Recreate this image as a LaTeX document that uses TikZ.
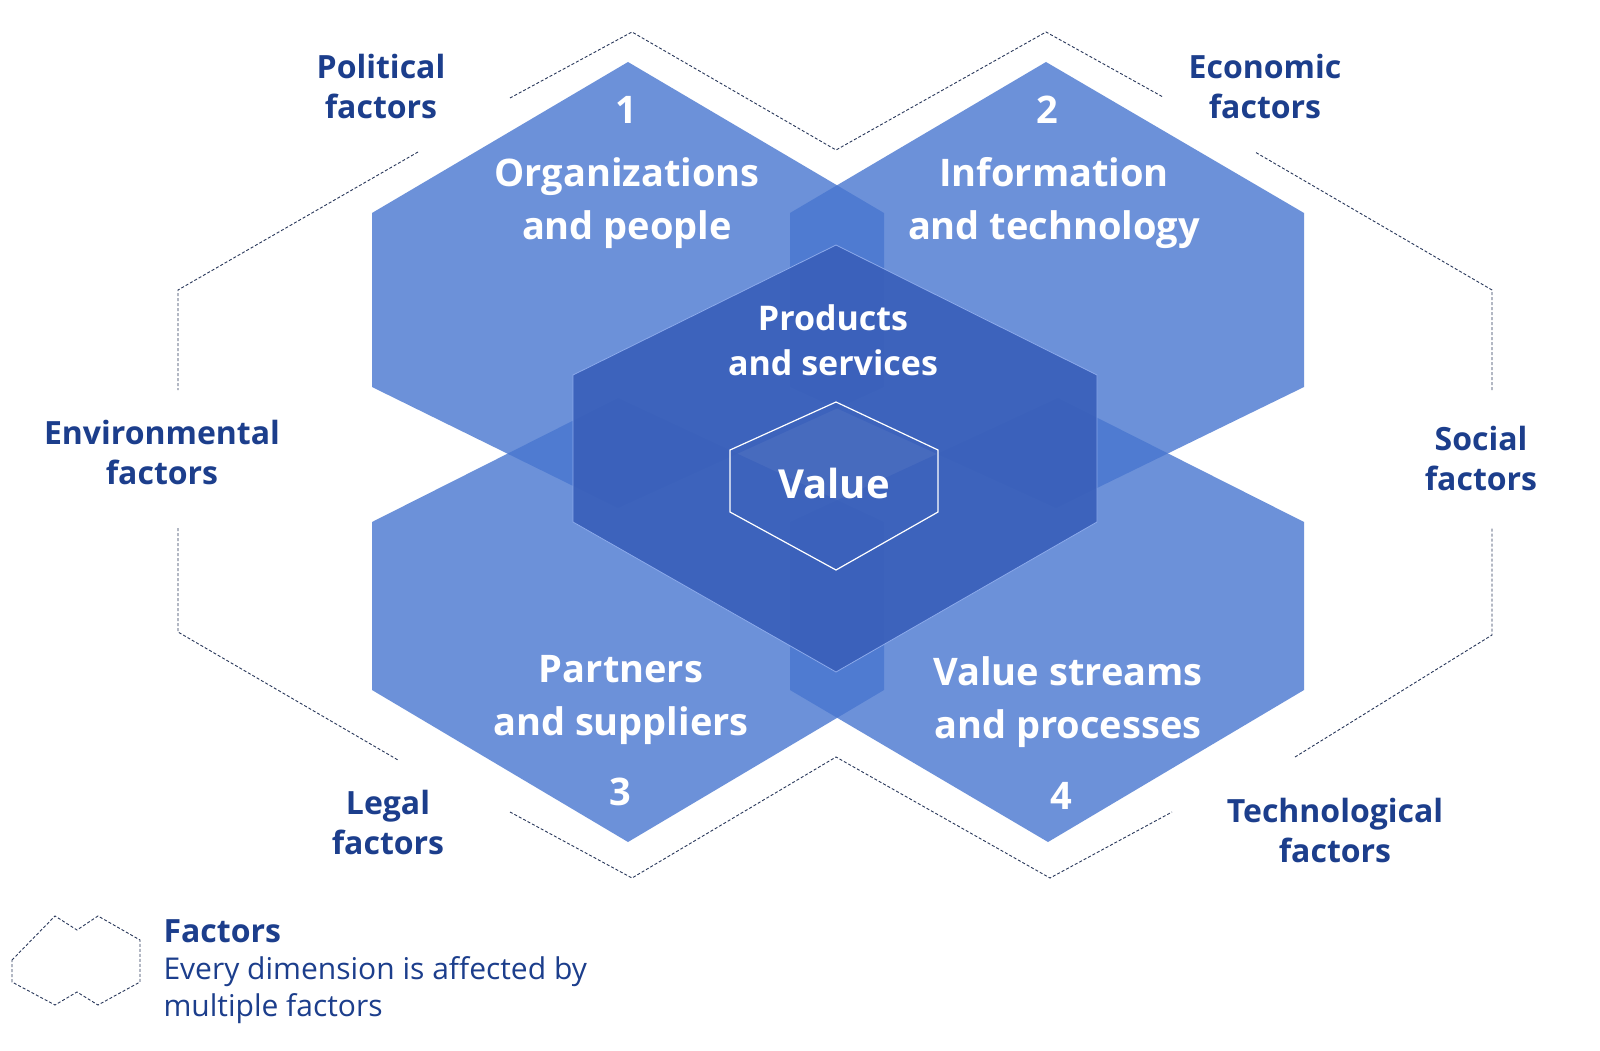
\documentclass[tikz,border=0pt]{standalone}
\usepackage{fontspec}
\setmainfont{Open Sans}
\begin{document}
\begin{tikzpicture}[x=1pt,y=-1pt,
  hexa/.style={fill={rgb,255:red,72;green,118;blue,208},fill opacity=0.8,draw=none},
  hexc/.style={fill={rgb,255:red,58;green,96;blue,186},fill opacity=0.93,draw={rgb,255:red,140;green,170;blue,235},line width=0.8pt},
  frm/.style={draw={rgb,255:red,40;green,55;blue,90},dash pattern=on 3pt off 2pt,line width=0.9pt},
  lab/.style={text={rgb,255:red,28;green,62;blue,140},font=\fontsize{32}{40}\selectfont\bfseries,align=center},
  wt/.style={text=white,font=\fontsize{38}{53}\selectfont\bfseries,align=center},
  wp/.style={text=white,font=\fontsize{34}{45}\selectfont\bfseries,align=center},
  ldesc/.style={anchor=west,text={rgb,255:red,28;green,62;blue,140},font=\fontsize{30}{38}\selectfont}]
\useasboundingbox (0,0) rectangle (1600,1051);
\fill[white] (0,0) rectangle (1600,1051);
% hexagons
\path[hexa] (628,62)--(884,213)--(884,387)--(618,508)--(372,387)--(372,213)--cycle;
\path[hexa] (1046,62)--(1304,213)--(1304,387)--(1056,508)--(790,387)--(790,213)--cycle;
\path[hexa] (618,398)--(884,522)--(884,690)--(628,842)--(372,690)--(372,522)--cycle;
\path[hexa] (1058,398)--(1304,522)--(1304,690)--(1048,842)--(790,690)--(790,522)--cycle;
\path[hexc] (836,245)--(1097,375)--(1097,522)--(836,672)--(573,522)--(573,375)--cycle;
\draw[white,line width=1.2pt] (836,402)--(938,450)--(938,512)--(836,570)--(730,512)--(730,450)--cycle;
% dashed frame
\draw[frm] (510,98)--(632,32)--(836,150)--(1046,32)--(1163,97);
\draw[frm] (418,152)--(178,290)--(178,390);
\draw[frm] (178,528)--(178,632)--(398,760);
\draw[frm] (510,812)--(632,878)--(836,757)--(1050,878)--(1172,812);
\draw[frm] (1295,757)--(1492,635)--(1492,528);
\draw[frm] (1492,390)--(1492,290)--(1255,152);
% labels
\node[lab] (pol) at (381,87) {Political\\factors};
\node[lab] (eco) at (1265,87) {Economic\\factors};
\node[lab] (env) at (162,452) {Environmental\\factors};
\node[lab] (soc) at (1481,458) {Social\\factors};
\node[lab] (leg) at (388,822) {Legal\\factors};
\node[lab] (tec) at (1335,830) {Technological\\factors};
% hex texts
\node[wt] (n1) at (626,110) {1};
\node[wt] (t1) at (627,203) {Organizations\\and people};
\node[wt] (n2) at (1047,110) {2};
\node[wt] (t2) at (1054,203) {Information\\and technology};
\node[wp] (tp) at (833,340) {Products\\and services};
\node[wt,font=\fontsize{40}{48}\selectfont\bfseries] (tv) at (834,483) {Value};
\node[wt] (t3) at (621,700) {Partners\\and suppliers};
\node[wt] (n3) at (620,792) {3};
\node[wt] (t4) at (1068,702) {Value streams\\and processes};
\node[wt] (n4) at (1061,796) {4};
% legend
\draw[frm] (12,960)--(55,916)--(77,930)--(98,916)--(140,940)--(140,982)--(98,1005)--(77,992)--(55,1005)--(12,982)--cycle;
\node[lab,anchor=west] (lf) at (160,931) {Factors};
\node[ldesc] (ld1) at (160,972) {Every dimension is affected by};
\node[ldesc] (ld2) at (160,1009) {multiple factors};
\end{tikzpicture}
\end{document}
